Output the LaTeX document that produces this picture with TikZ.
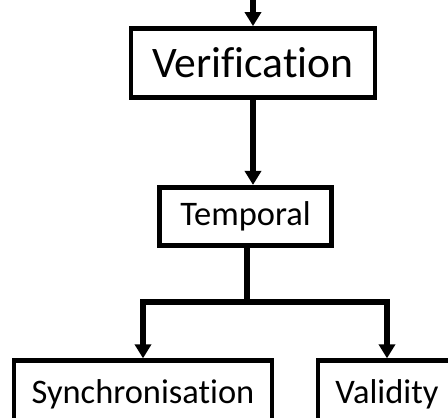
\documentclass[tikz,border=0pt]{standalone}
\usepackage{fontspec}
\setmainfont{Carlito}[Ligatures=NoCommon]
\usepackage{tikz}
\usetikzlibrary{shapes,arrows.meta}

\begin{document}
\begin{tikzpicture}
    \tikzset{pbox/.style={draw,rectangle,line width=3.5pt,fill=white},text centered,color=black}
    \tikzstyle{fleche}=[-{Triangle[length=0.35cm,width=0.4cm]},line width=0.15cm]
    \useasboundingbox (0,0) rectangle (11.2,10.45);
    \clip (0,0) rectangle (11.2,10.45);

    \node[pbox,minimum width=6.1cm,minimum height=1.72cm,font=\fontsize{31}{37}\selectfont] (VER) at (6.325,8.875) {Verification};
    \coordinate (IN) at (6.325,10.6);
    \draw[fleche] (IN)--(VER);

    \node[pbox,minimum width=4.3cm,minimum height=1.45cm,font=\fontsize{24.5}{29}\selectfont] (TEMP) at (6.14,5.04) {Temporal};
    \draw[fleche] (VER.south)--(VER.south |- TEMP.north);

    \node[pbox,minimum width=6.45cm,minimum height=1.7cm,font=\fontsize{24.5}{29}\selectfont] (SYN) at (3.575,0.58) {Synchronisation};
    \node[pbox,minimum width=3.45cm,minimum height=1.7cm,font=\fontsize{24.5}{29}\selectfont] (VAL) at (9.675,0.58) {Validity};
    \coordinate (J) at (6.175,2.9);
    \draw[line width=0.15cm] (TEMP.south -| J)--(J);
    \draw[fleche] (J) -| (SYN.north);
    \draw[fleche] (J) -| (VAL.north);
\end{tikzpicture}
\end{document}
